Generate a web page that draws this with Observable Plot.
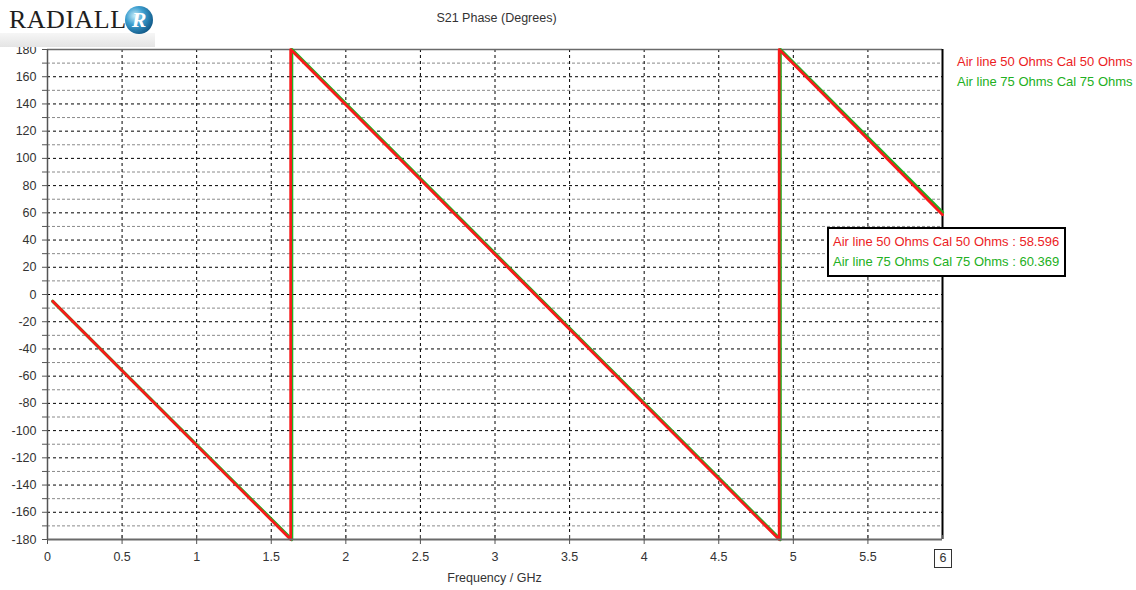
<!DOCTYPE html>
<html><head><meta charset="utf-8">
<script src="https://cdn.jsdelivr.net/npm/d3@7"></script>
<script src="https://cdn.jsdelivr.net/npm/@observablehq/plot@0.6"></script>
<style>
body{margin:0;background:#fff;}
#wrap{position:relative;width:1136px;height:590px;overflow:hidden;font-family:"Liberation Sans",Arial,sans-serif;background:#fff;}
.abs{position:absolute;white-space:nowrap;}
#logo-bar{position:absolute;left:0;top:33px;width:155px;height:14px;background:linear-gradient(to bottom,#f6f6f6,#e4e4e4);}
#logo-text{position:absolute;left:9px;top:5px;font-family:"Liberation Serif","DejaVu Serif",serif;font-size:26px;color:#1e1e1e;letter-spacing:0.5px;}
#logo-globe{position:absolute;left:125px;top:6px;width:28px;height:28px;border-radius:50%;background:radial-gradient(circle at 35% 35%,#c8ecf8 0%,#3d9fd0 35%,#125b8a 75%,#0a3656 100%);color:#fff;font-family:"Liberation Serif",serif;font-style:italic;font-weight:bold;font-size:22px;line-height:28px;text-align:center;}
#title{font-size:12.5px;color:#333;transform:translateX(-50%);}
.leg{font-size:13px;}
#tip{position:absolute;background:#fff;border:2px solid #000;padding:3px 5px 3px 4px;font-size:13px;line-height:20px;white-space:nowrap;}
#xlabel{font-size:12.5px;color:#333;transform:translateX(-50%);}
#cursorbox{position:absolute;border:1px solid #333;background:#fff;font-size:12.5px;color:#333;text-align:center;}
</style></head><body><div id="wrap"></div>
<script>
// ---- data ----
const seriesNames = ["Air line 50 Ohms Cal 50 Ohms", "Air line 75 Ohms Cal 75 Ohms"];
const seriesColors = ["#ec1c24", "#22b022"];
const lineColors = ["#f81a1a", "#22b022"];
const freq50 = [0.035, 1.630, 1.630, 4.905, 4.905, 6];
const phase50 = [-5, -180, 180, -180, 180, 58.596];
const freq75 = [0.035, 1.637, 1.637, 4.912, 4.912, 6];
const phase75 = [-5, -180, 180, -180, 180, 60.369];
const xTicks = [0, 0.5, 1, 1.5, 2, 2.5, 3, 3.5, 4, 4.5, 5, 5.5, 6];
const xGrid = [0.5, 1, 1.5, 2, 2.5, 3, 3.5, 4, 4.5, 5, 5.5];
const yTicks = [-180, -160, -140, -120, -100, -80, -60, -40, -20, 0, 20, 40, 60, 80, 100, 120, 140, 160, 180];
const yMajorGrid = [-160, -140, -120, -100, -80, -60, -40, -20, 0, 20, 40, 60, 80, 100, 120, 140, 160];
const yMinor = [-170, -150, -130, -110, -90, -70, -50, -30, -10, 10, 30, 50, 70, 90, 110, 130, 150, 170];
const cursorFreq = 6;
const cursorValues = [58.596, 60.369];
const titleText = "S21 Phase (Degrees)";
const xLabelText = "Frequency / GHz";

const toRows = (fs, ps) => fs.map((f, i) => ({f, p: ps[i]}));
const rows50 = toRows(freq50, phase50);
const rows75 = toRows(freq75, phase75);

const chart = Plot.plot({
  width: 1136, height: 590,
  marginLeft: 47, marginRight: 194, marginTop: 49, marginBottom: 51,
  style: {fontFamily: "Liberation Sans, Arial, sans-serif", fontSize: "12.5px", color: "#333", background: "transparent"},
  x: {domain: [0, 6]},
  y: {domain: [-180, 180]},
  marks: [
    Plot.ruleY(yMinor, {stroke: "#8a8a8a", strokeDasharray: "3,2"}),
    Plot.ruleY(yMajorGrid, {stroke: "#000", strokeDasharray: "3,3"}),
    Plot.ruleX(xGrid, {stroke: "#000", strokeDasharray: "3,3"}),
    Plot.ruleY([180], {stroke: "#6a6a6a", strokeWidth: 1.5}),
    Plot.ruleX([6], {stroke: "#000", strokeWidth: 2}),
    Plot.line(rows75, {x: "f", y: "p", stroke: lineColors[1], strokeWidth: 3.2}),
    Plot.line(rows50, {x: "f", y: "p", stroke: lineColors[0], strokeWidth: 2.7}),
    Plot.ruleX([0], {stroke: "#555", strokeWidth: 1.5}),
    Plot.ruleY([-180], {stroke: "#6a6a6a", strokeWidth: 2}),
    Plot.axisY({ticks: yTicks, tickSize: 5, tickPadding: 6, label: null, stroke: "#555", fill: "#333", tickFormat: d => String(d)}),
    Plot.axisY({ticks: yMinor, tickSize: 5, tickFormat: () => "", label: null, stroke: "#555"}),
    Plot.axisX({ticks: xTicks.filter(d => d !== cursorFreq), tickSize: 5, tickPadding: 8, label: null, stroke: "#555", fill: "#333", tickFormat: d => String(d)}),
    Plot.axisX({ticks: xTicks, tickSize: -4, tickFormat: () => "", label: null, stroke: "#555"})
  ]
});

const wrap = document.getElementById("wrap");
chart.style.position = "absolute";
chart.style.left = "0px";
chart.style.top = "0px";
wrap.appendChild(chart);

const sx = chart.scale("x"), sy = chart.scale("y");
const x0 = sx.apply(0), x6 = sx.apply(6), yTop = sy.apply(180), yBot = sy.apply(-180);

function add(html, cls, style) {
  const d = document.createElement("div");
  d.className = cls;
  d.innerHTML = html;
  Object.assign(d.style, style);
  wrap.appendChild(d);
  return d;
}

// logo
add("", "", {}).id = "logo-bar";
add("RADIALL", "", {}).id = "logo-text";
add("R", "", {}).id = "logo-globe";

// title
const t = add(titleText, "abs", {left: ((x0 + x6) / 2 + 2) + "px", top: "11px"});
t.id = "title";

// legend
seriesNames.forEach((n, i) => {
  add(n, "abs leg", {left: (x6 + 15) + "px", top: (54 + i * 20) + "px", color: seriesColors[i]});
});

// cursor box on x axis
const cb = add(String(cursorFreq), "", {left: (sx.apply(cursorFreq) - 8) + "px", top: (yBot + 10) + "px", width: "16px", height: "17px", lineHeight: "17px"});
cb.id = "cursorbox";

// tooltip
const tip = add(seriesNames.map((n, i) => `<div style="color:${seriesColors[i]}">${n} : ${cursorValues[i].toFixed(3)}</div>`).join(""), "", {left: (sx.apply(cursorFreq) - 115) + "px", top: (sy.apply(cursorValues[0]) + 13) + "px"});
tip.id = "tip";

// x label
const xl = add(xLabelText, "abs", {left: ((x0 + x6) / 2) + "px", top: "571px"});
xl.id = "xlabel";
</script></body></html>
